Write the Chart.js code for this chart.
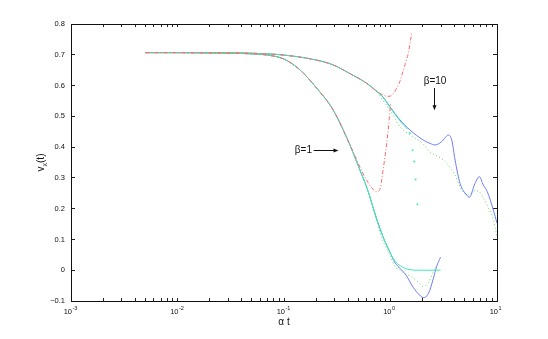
<!DOCTYPE html>
<html lang="en">
<head>
    <meta charset="UTF-8">
    <title>v_x(t)</title>
    <script src="https://cdn.jsdelivr.net/npm/chart.js"></script>
    <style>
        body { margin: 0; background: #fff; }
        canvas { display: block; }
    </style>
</head>
<body>
    <canvas id="chart" width="548" height="339"></canvas>

    <script>
        // beta = 1 curves (alpha t on a log axis)
        const tB1 =     [0.005, 0.01, 0.02, 0.03, 0.05, 0.07, 0.1, 0.14, 0.2, 0.29, 0.41, 0.51, 0.6, 0.74, 0.85, 0.99, 1.1, 1.23, 1.37, 1.46, 1.58, 1.82, 2.03, 2.27, 2.52, 2.71, 2.95];
        const cyanB1 =  [0.707, 0.707, 0.706, 0.705, 0.703, 0.699, 0.686, 0.652, 0.594, 0.52, 0.412, 0.33, 0.268, 0.168, 0.109, 0.058, 0.03, 0.015, 0.006, 0.003, 0.001, 0, 0, 0, 0, 0, 0];
        const blueB1 =  [0.707, 0.707, 0.706, 0.705, 0.703, 0.699, 0.686, 0.652, 0.594, 0.52, 0.412, 0.33, 0.268, 0.168, 0.109, 0.058, 0.025, 0.006, -0.012, -0.026, -0.048, -0.076, -0.089, -0.076, -0.028, 0.012, 0.042];
        const greenB1 = [0.707, 0.707, 0.706, 0.705, 0.703, 0.699, 0.686, 0.652, 0.594, 0.52, 0.412, 0.33, 0.268, 0.16, 0.095, 0.048, 0.012, 0.0, -0.011, -0.016, -0.022, -0.038, -0.052, -0.04, -0.005, 0.015, null];
        const tRedB1 =  [0.005, 0.01, 0.02, 0.03, 0.05, 0.07, 0.1, 0.14, 0.2, 0.29, 0.41, 0.48, 0.55, 0.62, 0.69, 0.74, 0.8, 0.84, 0.88, 0.92, 0.96, 1.0];
        const redB1 =   [0.707, 0.707, 0.706, 0.705, 0.703, 0.699, 0.686, 0.652, 0.594, 0.52, 0.412, 0.36, 0.315, 0.283, 0.262, 0.255, 0.265, 0.31, 0.36, 0.41, 0.47, 0.54];

        // beta = 10 curves
        const tB10 =     [0.005, 0.01, 0.02, 0.05, 0.1, 0.2, 0.29, 0.41, 0.6, 0.75, 0.85, 0.99, 1.23, 1.52, 2.03, 2.35, 2.62, 3.03, 3.49, 3.76, 4.04, 4.5, 5.2, 5.5, 6.21, 6.82, 7.43, 8.11, 9.23, 10];
        const blueB10 =  [0.707, 0.707, 0.707, 0.705, 0.699, 0.683, 0.667, 0.64, 0.607, 0.58, 0.563, 0.531, 0.488, 0.456, 0.423, 0.412, 0.407, 0.418, 0.439, 0.423, 0.358, 0.282, 0.244, 0.237, 0.282, 0.304, 0.277, 0.255, 0.196, 0.153];
        const greenB10 = [0.707, 0.707, 0.707, 0.705, 0.699, 0.683, 0.667, 0.64, 0.607, 0.58, 0.552, 0.52, 0.466, 0.44, 0.41, 0.383, 0.375, 0.362, 0.342, 0.325, 0.309, 0.271, 0.244, 0.247, 0.258, 0.255, 0.235, 0.21, 0.165, 0.109];
        const tCyanB10 = [0.005, 0.01, 0.02, 0.05, 0.1, 0.2, 0.29, 0.41, 0.6, 0.75, 0.85, 0.99, 1.23, 1.45];
        const cyanB10 =  [0.707, 0.707, 0.707, 0.705, 0.699, 0.683, 0.667, 0.64, 0.607, 0.58, 0.562, 0.529, 0.485, 0.458];
        const tCyanDots = [1.52, 1.61, 1.67, 1.72, 1.79];
        const cyanDots =  [0.446, 0.39, 0.353, 0.295, 0.214];
        const tRedB10 =  [0.005, 0.01, 0.02, 0.05, 0.1, 0.2, 0.29, 0.41, 0.6, 0.75, 0.8, 0.87, 0.94, 1.0, 1.07, 1.14, 1.23, 1.32, 1.4, 1.47, 1.53, 1.59];
        const redB10 =   [0.707, 0.707, 0.707, 0.705, 0.699, 0.683, 0.667, 0.64, 0.607, 0.58, 0.574, 0.568, 0.565, 0.566, 0.575, 0.591, 0.615, 0.65, 0.68, 0.705, 0.74, 0.775];

        // axes
        const xDecades = [-3, -2, -1, 0, 1];
        const xMinor = [2, 3, 4, 5, 6, 7, 8, 9];
        const yTicks = [-0.1, 0, 0.1, 0.2, 0.3, 0.4, 0.5, 0.6, 0.7, 0.8];

        const FONT = "'Liberation Sans', Arial, sans-serif";
        const BLUE = '#6d7ef2', GREEN = '#5fd35f', CYAN = '#3eecae', RED = '#ff6b6b';
        const AXIS = '#222';

        const pts = (ts, ys) => ts.map((t, i) => ({ x: t, y: ys[i] }));

        const line = (data, color, dash) => ({
            data, borderColor: color, borderWidth: 1, borderDash: dash || [],
            pointRadius: 0, cubicInterpolationMode: 'monotone', fill: false, spanGaps: false
        });

        const logTicks = (scale) => {
            const ticks = [];
            xDecades.forEach(e => {
                ticks.push({ value: Math.pow(10, e) });
                if (e < 1) xMinor.forEach(m => ticks.push({ value: m * Math.pow(10, e) }));
            });
            scale.ticks = ticks;
        };
        const linTicks = (scale) => { scale.ticks = yTicks.map(v => ({ value: v })); };

        // inward tick marks: negative tick length, no grid lines on the plot
        const boxGrid = (len) => ({ display: true, drawOnChartArea: false, drawTicks: true, tickLength: -len, color: AXIS, lineWidth: 1 });
        const boxBorder = { display: true, color: AXIS, width: 1 };

        function arrow(ctx, x1, y1, x2, y2) {
            const ang = Math.atan2(y2 - y1, x2 - x1);
            ctx.beginPath();
            ctx.moveTo(x1, y1);
            ctx.lineTo(x2 - 4 * Math.cos(ang), y2 - 4 * Math.sin(ang));
            ctx.stroke();
            ctx.beginPath();
            ctx.moveTo(x2, y2);
            ctx.lineTo(x2 - 5 * Math.cos(ang) + 2 * Math.sin(ang), y2 - 5 * Math.sin(ang) - 2 * Math.cos(ang));
            ctx.lineTo(x2 - 5 * Math.cos(ang) - 2 * Math.sin(ang), y2 - 5 * Math.sin(ang) + 2 * Math.cos(ang));
            ctx.closePath();
            ctx.fill();
        }

        // superscript tick labels, axis titles, box and the beta notes
        const matlabText = {
            id: 'matlabText',
            afterDraw(chart) {
                const ctx = chart.ctx;
                const x = chart.scales.x, y = chart.scales.y;
                const L = x.getPixelForValue(0.001), R = x.getPixelForValue(10);
                const T = y.getPixelForValue(0.8), B = y.getPixelForValue(-0.1);
                ctx.save();
                ctx.fillStyle = '#111';
                ctx.strokeStyle = '#111';
                ctx.lineWidth = 1;

                // box drawn as one path, as the arrows are
                ctx.beginPath();
                ctx.moveTo(Math.round(L) + 0.5, Math.round(T) + 0.5);
                ctx.lineTo(Math.round(R) + 0.5, Math.round(T) + 0.5);
                ctx.lineTo(Math.round(R) + 0.5, Math.round(B) + 0.5);
                ctx.lineTo(Math.round(L) + 0.5, Math.round(B) + 0.5);
                ctx.closePath();
                ctx.stroke();

                xDecades.forEach(e => {
                    const px = x.getPixelForValue(Math.pow(10, e));
                    ctx.font = '7.5px ' + FONT;
                    ctx.textAlign = 'right';
                    ctx.fillText('10', px + 1, B + 13);
                    ctx.font = '5.5px ' + FONT;
                    ctx.textAlign = 'left';
                    ctx.fillText(String(e), px + 1.5, B + 9);
                });

                ctx.font = '10px ' + FONT;
                ctx.textAlign = 'center';
                ctx.fillText('\u03b1 t', (L + R) / 2, B + 24);

                ctx.save();
                ctx.translate(44, (T + B) / 2);
                ctx.rotate(-Math.PI / 2);
                ctx.textAlign = 'left';
                ctx.font = '10px ' + FONT;
                const wv = ctx.measureText('v').width;
                const wt = ctx.measureText('(t)').width;
                ctx.font = '7px ' + FONT;
                const wx = ctx.measureText('x').width;
                const x0 = -(wv + wx + wt) / 2;
                ctx.font = '10px ' + FONT;
                ctx.fillText('v', x0, 0);
                ctx.fillText('(t)', x0 + wv + wx, 0);
                ctx.font = '7px ' + FONT;
                ctx.fillText('x', x0 + wv, 2.5);
                ctx.restore();

                ctx.font = '10px ' + FONT;
                ctx.textBaseline = 'middle';
                ctx.textAlign = 'center';
                ctx.fillText('\u03b2=10', x.getPixelForValue(2.62), y.getPixelForValue(0.615));
                const ax = Math.round(x.getPixelForValue(2.56)) + 0.5;
                arrow(ctx, ax, y.getPixelForValue(0.592), ax, y.getPixelForValue(0.52));

                ctx.textAlign = 'right';
                ctx.fillText('\u03b2=1', x.getPixelForValue(0.183), y.getPixelForValue(0.391));
                const ay = Math.round(y.getPixelForValue(0.391)) + 0.5;
                arrow(ctx, x.getPixelForValue(0.19), ay, x.getPixelForValue(0.325), ay);
                ctx.restore();
            }
        };

        new Chart(document.getElementById('chart'), {
            type: 'line',
            data: {
                datasets: [
                    line(pts(tRedB10, redB10), RED, [4, 2, 1, 2]),
                    line(pts(tRedB1, redB1), RED, [4, 2, 1, 2]),
                    {
                        data: pts(tCyanDots, cyanDots), showLine: false,
                        pointRadius: 1, pointBorderWidth: 0, backgroundColor: CYAN, borderColor: CYAN
                    },
                    line(pts(tCyanB10, cyanB10), CYAN),
                    line(pts(tB1, cyanB1), CYAN),
                    line(pts(tB10, greenB10), GREEN, [1, 2.5]),
                    line(pts(tB1, greenB1), GREEN, [1, 2.5]),
                    line(pts(tB10, blueB10), BLUE),
                    line(pts(tB1, blueB1), BLUE)
                ]
            },
            options: {
                responsive: false,
                animation: false,
                layout: { padding: { left: 0, top: 24, right: 51, bottom: 0 } },
                plugins: { legend: { display: false }, tooltip: { enabled: false } },
                scales: {
                    x: {
                        type: 'logarithmic', position: 'bottom', min: 0.001, max: 10,
                        grid: boxGrid(3), border: boxBorder,
                        ticks: { display: false },
                        afterBuildTicks: logTicks,
                        afterFit: (scale) => { scale.height = 38; }
                    },
                    xTop: {
                        type: 'logarithmic', position: 'top', min: 0.001, max: 10,
                        grid: boxGrid(3), border: boxBorder,
                        ticks: { display: false },
                        afterBuildTicks: logTicks,
                        afterFit: (scale) => { scale.height = 0; }
                    },
                    y: {
                        position: 'left', min: -0.1, max: 0.8,
                        grid: boxGrid(4), border: boxBorder,
                        ticks: {
                            color: '#111',
                            padding: 10,
                            font: { family: FONT, size: 7.5 },
                            callback: (v) => Math.abs(v) < 1e-9 ? '0' : (v < 0 ? '\u2212' : '') + Math.abs(v).toFixed(1)
                        },
                        afterBuildTicks: linTicks,
                        afterFit: (scale) => { scale.width = 71; }
                    },
                    yRight: {
                        position: 'right', min: -0.1, max: 0.8,
                        grid: boxGrid(4), border: boxBorder,
                        ticks: { display: false },
                        afterBuildTicks: linTicks,
                        afterFit: (scale) => { scale.width = 0; }
                    }
                }
            },
            plugins: [matlabText]
        });
    </script>
</body>
</html>
